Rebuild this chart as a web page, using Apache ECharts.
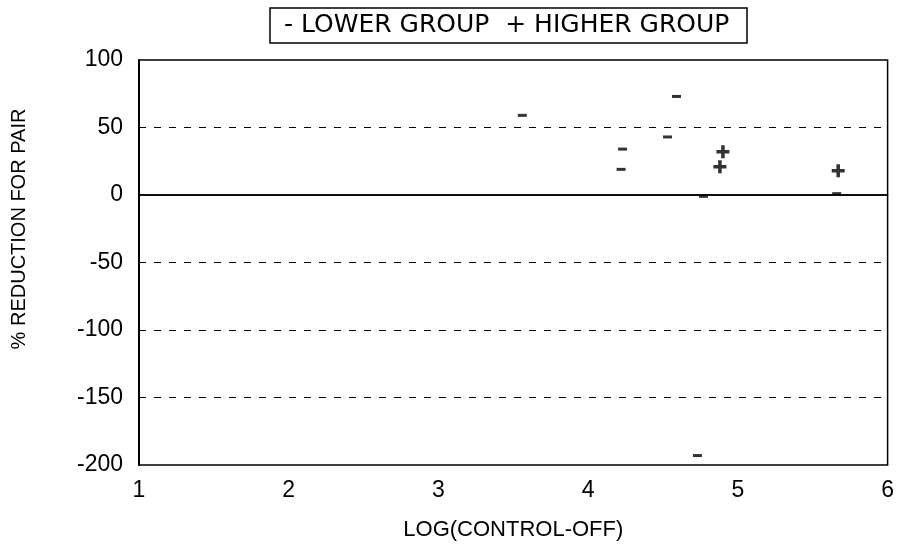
<!DOCTYPE html>
<html>
<head>
<meta charset="utf-8">
<script src="https://cdn.jsdelivr.net/npm/echarts@6/dist/echarts.min.js"></script>
<style>
  html, body { margin: 0; padding: 0; background: #fff; }
  #chart { width: 897px; height: 546px; }
</style>
</head>
<body>
<div id="chart"></div>
<script>
// lower group ("-") points
const lowerX = [3.56, 4.59, 4.23, 4.22, 4.53, 4.77, 5.66, 4.73];
const lowerY = [59, 73, 34, 19, 43, -1, 1, -193];
// higher group ("+") points
const higherX = [4.9, 4.88, 5.67];
const higherY = [32, 21, 18];

const xTicks = [1, 2, 3, 4, 5, 6];
const yTicks = [-200, -150, -100, -50, 0, 50, 100];
const gridLevels = [50, -50, -100, -150];

const pair = (xs, ys) => xs.map((x, i) => [x, ys[i]]);

const chart = echarts.init(document.getElementById('chart'));
chart.setOption({
  animation: false,
  backgroundColor: '#fff',
  textStyle: { fontFamily: 'Liberation Sans', color: '#000' },
  title: {
    text: '- LOWER GROUP  + HIGHER GROUP',
    left: 270,
    top: 8,
    padding: [5, 18, 5, 14],
    borderColor: '#000',
    borderWidth: 1.5,
    textStyle: { fontFamily: 'DejaVu Sans', fontSize: 25, fontWeight: 'normal', color: '#000' }
  },
  grid: {
    left: 139,
    right: 8,
    top: 60,
    bottom: 81,
    show: true,
    borderColor: '#000',
    borderWidth: 1.5
  },
  xAxis: {
    type: 'value',
    min: xTicks[0],
    max: xTicks[xTicks.length - 1],
    interval: 1,
    name: 'LOG(CONTROL-OFF)',
    nameLocation: 'middle',
    nameGap: 54,
    nameTextStyle: { fontSize: 22, color: '#000' },
    axisLine: { show: true, lineStyle: { color: '#000', width: 1.5 } },
    axisTick: { show: false },
    splitLine: { show: false },
    axisLabel: { fontSize: 23, color: '#000', margin: 14 }
  },
  yAxis: {
    type: 'value',
    min: yTicks[0],
    max: yTicks[yTicks.length - 1],
    interval: 50,
    axisLine: { show: true, lineStyle: { color: '#000', width: 2 } },
    axisTick: { show: false },
    splitLine: { show: false },
    axisLabel: { fontSize: 23, color: '#000', margin: 16 }
  },
  graphic: [{
    type: 'text',
    rotation: Math.PI / 2,
    x: 19,
    y: 229,
    style: {
      text: '% REDUCTION FOR PAIR',
      fontFamily: 'Liberation Sans',
      fontSize: 20,
      fill: '#000',
      textAlign: 'center',
      textVerticalAlign: 'middle'
    }
  }],
  series: [
    {
      type: 'line',
      data: [],
      silent: true,
      markLine: {
        symbol: 'none',
        silent: true,
        label: { show: false },
        lineStyle: { color: '#000', type: [7, 8], width: 1 },
        data: gridLevels.map(v => ({ yAxis: v }))
      }
    },
    {
      type: 'line',
      data: [],
      silent: true,
      markLine: {
        symbol: 'none',
        silent: true,
        label: { show: false },
        lineStyle: { color: '#000', type: 'solid', width: 1.5 },
        data: [{ yAxis: 0 }]
      }
    },
    {
      name: 'LOWER GROUP',
      type: 'scatter',
      symbol: 'path://M0,0H9V3H0Z',
      symbolSize: [9, 3],
      itemStyle: { color: '#000' },
      data: pair(lowerX, lowerY)
    },
    {
      name: 'HIGHER GROUP',
      type: 'scatter',
      symbol: 'path://M4,0H7V4H11V7H7V11H4V7H0V4H4Z',
      symbolSize: 13,
      itemStyle: { color: '#000' },
      data: pair(higherX, higherY)
    }
  ]
});
</script>
</body>
</html>
